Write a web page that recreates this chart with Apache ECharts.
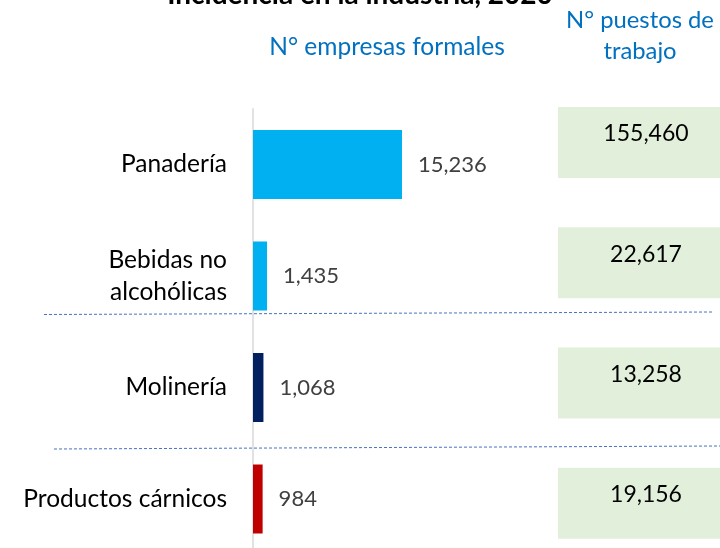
<!DOCTYPE html>
<html>
<head>
<meta charset="utf-8">
<script src="https://cdn.jsdelivr.net/npm/echarts@6/dist/echarts.min.js"></script>
<style>
  html, body { margin: 0; padding: 0; background: #fff; }
  #chart { width: 720px; height: 548px; }
</style>
</head>
<body>
<div id="chart"></div>
<script>
// datos
const categorias = ['Panadería', 'Bebidas no\nalcohólicas', 'Molinería', 'Productos cárnicos']
const empresas = [15236, 1435, 1068, 984]
const puestos = [155460, 22617, 13258, 19156]
const coloresBarra = ['#00B0F0', '#00B0F0', '#002060', '#C00000']

const FONT = 'Lato, "Open Sans", sans-serif'
const fmt = v => Number(v).toLocaleString('en-US')

const chart = echarts.init(document.getElementById('chart'))

chart.setOption({
  backgroundColor: '#fff',
  animation: false,
  grid: [
    { left: 253, top: 108.75, width: 195.6, height: 446, outerBoundsMode: 'none' },
    { left: 558, top: 82.3, width: 162, height: 481.2, outerBoundsMode: 'none' }
  ],
  xAxis: [
    { gridIndex: 0, type: 'value', min: 0, max: 20000, show: false },
    { gridIndex: 1, type: 'value', min: 0, max: 1, show: false }
  ],
  yAxis: [
    {
      gridIndex: 0,
      type: 'category',
      inverse: true,
      data: categorias,
      axisTick: { show: false },
      splitLine: { show: false },
      axisLine: { show: true, lineStyle: { color: '#D9D9D9', width: 1.5 } },
      axisLabel: {
        margin: 26,
        color: '#000',
        fontSize: 24.5,
        lineHeight: 32,
        fontFamily: FONT
      }
    },
    {
      gridIndex: 1,
      type: 'category',
      inverse: true,
      data: categorias,
      show: false
    }
  ],
  graphic: [
    {
      type: 'text', left: 'center', top: -19,
      style: { text: 'Incidencia en la industria, 2020', fill: '#000', font: 'bold 28px ' + FONT }
    },
    {
      type: 'text', x: 387, y: 47,
      style: { text: 'N° empresas formales', fill: '#0070C0', font: '24.5px ' + FONT, align: 'center', verticalAlign: 'middle' }
    },
    {
      type: 'text', x: 640, y: 36,
      style: { text: 'N° puestos de\ntrabajo', fill: '#0070C0', font: '23.8px ' + FONT, lineHeight: 31, align: 'center', verticalAlign: 'middle' }
    },
    {
      type: 'line', silent: true,
      shape: { x1: 44, y1: 314.5, x2: 712, y2: 312 },
      style: { stroke: '#4472C4', lineWidth: 1, lineDash: [3, 2] }
    },
    {
      type: 'line', silent: true,
      shape: { x1: 54, y1: 449, x2: 720, y2: 446 },
      style: { stroke: '#4472C4', lineWidth: 1, lineDash: [3, 2] }
    }
  ],
  series: [
    {
      type: 'bar',
      xAxisIndex: 0,
      yAxisIndex: 0,
      barWidth: 69,
      data: empresas.map((v, i) => ({ value: v, itemStyle: { color: coloresBarra[i] } })),
      label: {
        show: true,
        position: 'right',
        distance: 16,
        color: '#404040',
        fontSize: 22,
        fontFamily: FONT,
        formatter: p => fmt(p.value)
      }
    },
    {
      type: 'custom',
      xAxisIndex: 1,
      yAxisIndex: 1,
      data: puestos.map((v, i) => [v, i]),
      encode: { x: 0, y: 1 },
      renderItem: function (params, api) {
        const cs = params.coordSys
        const p = api.coord([0, api.value(1)])
        const h = api.size([0, 1])[1] * 0.59
        return {
          type: 'group',
          children: [
            {
              type: 'rect',
              shape: { x: cs.x, y: p[1] - h / 2, width: cs.width, height: h },
              style: { fill: '#E2EFDA' }
            },
            {
              type: 'text',
              style: {
                text: fmt(api.value(0)),
                x: cs.x + cs.width / 2 + 7,
                y: p[1] - 8.5,
                align: 'center',
                verticalAlign: 'middle',
                fill: '#000',
                font: '23px ' + FONT
              }
            }
          ]
        }
      }
    }
  ]
})
</script>
</body>
</html>
